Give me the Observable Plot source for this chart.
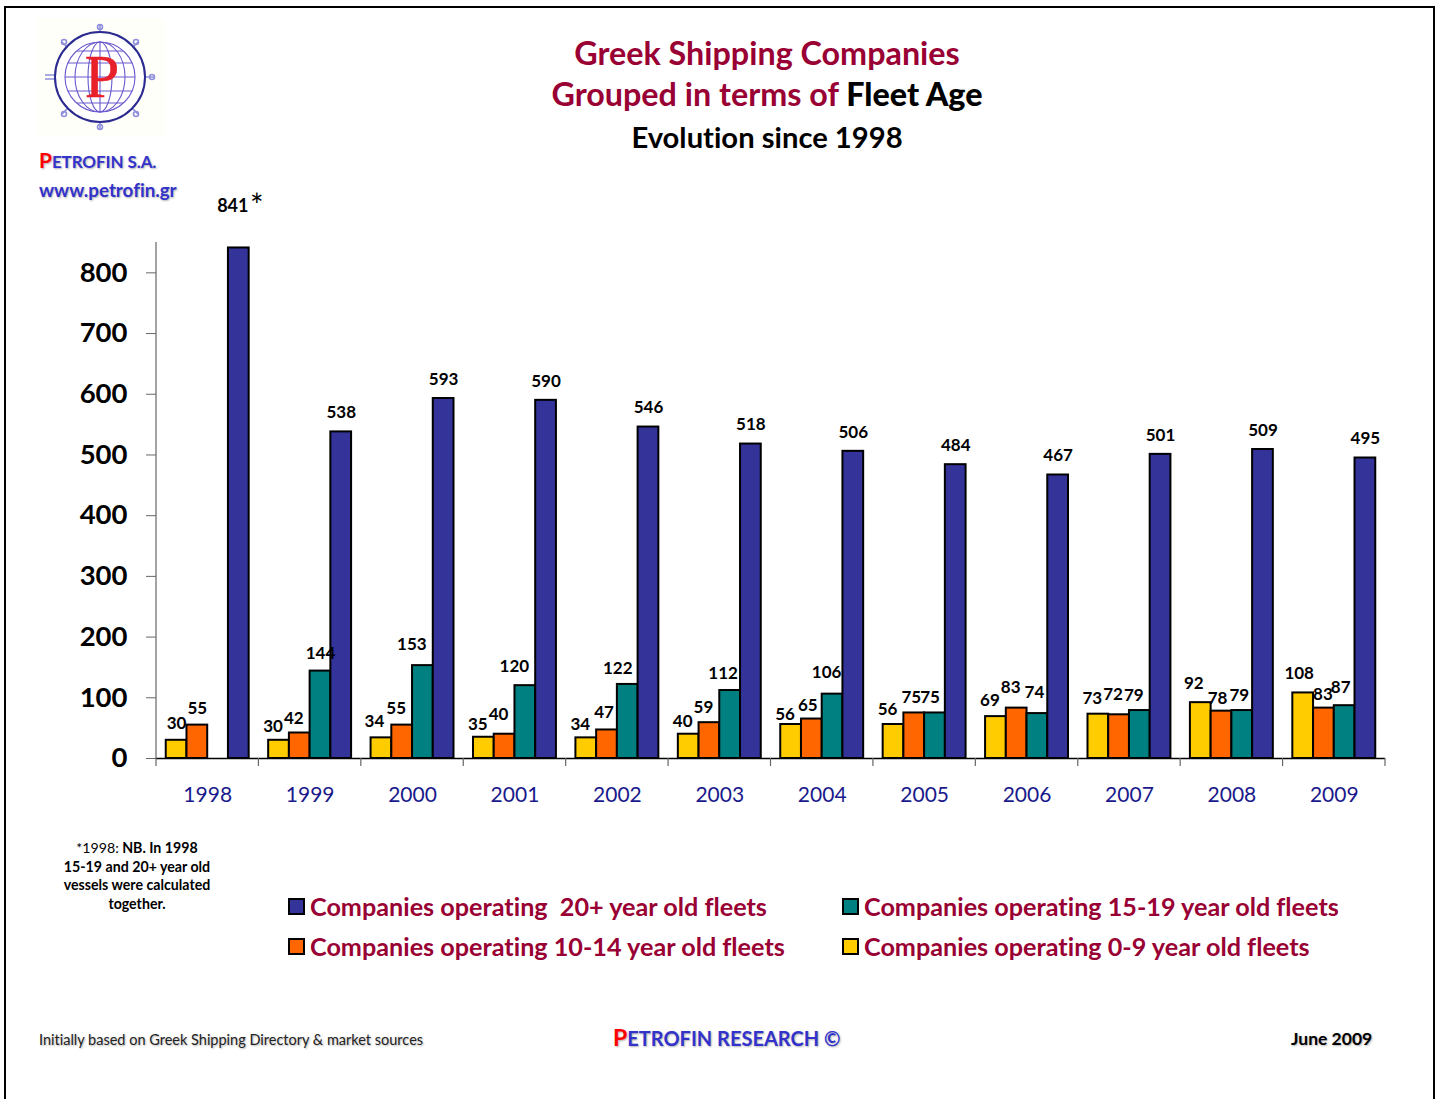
<!DOCTYPE html>
<html>
<head>
<meta charset="utf-8">
<script src="https://cdn.jsdelivr.net/npm/d3@7"></script>
<script src="https://cdn.jsdelivr.net/npm/@observablehq/plot@0.6"></script>
<style>
  html, body { margin: 0; padding: 0; background: #fff; }
  #page { position: relative; width: 1440px; height: 1099px; overflow: hidden; font-family: Lato, "Open Sans", sans-serif; color: #000; font-variant-ligatures: none; }
  #edge { position: absolute; left: 4px; top: 6px; width: 1427px; height: 1200px; border: 2px solid #000; }
  #page > div.t { position: absolute; white-space: nowrap; }
  #chart { position: absolute; left: 0; top: 185px; }
  .ttl { left: 267px; width: 1000px; text-align: center; font-weight: 700; color: #990033; }
  .ttl b { color: #000; }
  .leg { font-size: 25.2px; font-weight: 700; color: #990033; }
  .sw { position: absolute; width: 13px; height: 13px; border: 2px solid #000; }
  .soft { text-shadow: 1px 1px 2px rgba(0,0,0,.3); }
  .blue { color: #3333cc; }
  .red { color: #ff0000; }
  #chart text { font-variant-ligatures: none; }
</style>
</head>
<body>
<div id="page">
  <div id="edge"></div>

  <svg style="position:absolute;left:36px;top:16px;filter:blur(.6px)" width="130" height="126" viewBox="36 16 130 126">
    <rect x="37" y="18" width="128" height="118" fill="#fffffa"/>
    <g fill="none" stroke="#8f8fdc" stroke-width="1.6">
      <path d="M100 25v10M100 120v10M45 75h10M45 79h10M145 77h10M62 42l6 6M138 42l-6 6M62 114l6-6M138 114l-6-6"/>
      <circle cx="100" cy="27" r="2.5"/><circle cx="100" cy="127" r="2.5"/>
      <circle cx="152" cy="77" r="2.5"/>
      <circle cx="64" cy="42" r="2.5"/><circle cx="136" cy="42" r="2.5"/>
      <circle cx="64" cy="114" r="2.5"/><circle cx="136" cy="114" r="2.5"/>
    </g>
    <circle cx="100" cy="77" r="45" fill="#fff" stroke="#2a2a90" stroke-width="2"/>
    <g fill="none" stroke="#6a5acd" stroke-width="1.1">
      <circle cx="100" cy="77" r="35"/>
      <ellipse cx="100" cy="77" rx="12" ry="35"/>
      <ellipse cx="100" cy="77" rx="25" ry="35"/>
      <path d="M100 42v70M65 77h70M68 63h64M68 91h64M77 51h46M77 103h46"/>
    </g>
    <text x="102" y="97" text-anchor="middle" font-family="Liberation Serif" font-weight="400" font-size="62" fill="#e8202a" stroke="#e8202a" stroke-width=".6">P</text>
  </svg>

  <div class="t soft" style="left:39px;top:147px;font-size:17px;font-weight:700;letter-spacing:-.1px"><span class="red" style="font-size:21px">P</span><span class="blue">ETROFIN S.A.</span></div>
  <div class="t soft blue" style="left:39px;top:178px;font-size:18.8px;font-weight:700">www.petrofin.gr</div>

  <div class="t ttl" style="top:34px;font-size:32.3px;line-height:38px">Greek Shipping Companies</div>
  <div class="t ttl" style="top:75px;font-size:32.3px;line-height:38px">Grouped in terms of <b>Fleet Age</b></div>
  <div class="t ttl" style="top:119px;font-size:29.2px;line-height:36px;color:#000">Evolution since 1998</div>

  <div id="chart"></div>

  <div class="t" style="left:37px;width:200px;top:839px;text-align:center;font-size:14.2px;line-height:18.7px;font-weight:700"><span style="font-weight:400">*1998:</span> NB. In 1998<br>15-19 and 20+ year old<br>vessels were calculated<br>together.</div>

  <div class="sw" style="left:288px;top:898px;background:#333399"></div>
  <div class="t leg" style="left:310px;top:891px">Companies operating&nbsp; 20+ year old fleets</div>
  <div class="sw" style="left:842px;top:898px;background:#008080"></div>
  <div class="t leg" style="left:864px;top:891px">Companies operating 15-19 year old fleets</div>
  <div class="sw" style="left:288px;top:938px;background:#ff6600"></div>
  <div class="t leg" style="left:310px;top:931px">Companies operating 10-14 year old fleets</div>
  <div class="sw" style="left:842px;top:938px;background:#ffcc00"></div>
  <div class="t leg" style="left:864px;top:931px">Companies operating 0-9 year old fleets</div>

  <div class="t soft" style="left:39px;top:1031px;font-size:14.5px;color:#222">Initially based on Greek Shipping Directory &amp; market sources</div>
  <div class="t soft" style="left:613px;top:1023px;font-size:20px;font-weight:700"><span class="red" style="font-size:23px">P</span><span class="blue">ETROFIN RESEARCH ©</span></div>
  <div class="t soft" style="left:1291px;top:1028px;font-size:17.5px;font-weight:700">June 2009</div>
</div>

<script>
// Fleet-age groups per year; the 15-19 and 20+ groups were counted together in 1998.
const years = [1998, 1999, 2000, 2001, 2002, 2003, 2004, 2005, 2006, 2007, 2008, 2009];
const seriesNames = ["0-9", "10-14", "15-19", "20+"];
const age0to9 = [30, 30, 34, 35, 34, 40, 56, 56, 69, 73, 92, 108];
const age10to14 = [55, 42, 55, 40, 47, 59, 65, 75, 83, 72, 78, 83];
const age15to19 = [null, 144, 153, 120, 122, 112, 106, 75, 74, 79, 79, 87];
const age20plus = [841, 538, 593, 590, 546, 518, 506, 484, 467, 501, 509, 495];
const seriesValues = [age0to9, age10to14, age15to19, age20plus];
const seriesColors = ["#ffcc00", "#ff6600", "#008080", "#333399"];

// Hand placement of the value labels, to keep crowded ones from colliding: [dx, dy] per year.
const labelOffsets = [
  [[0,0],[-6,3],[-7,1],[-6,4],[-6,4],[-6,4],[-6,7],[-6,2],[-6,1],[-6,1],[-7,-2],[-4,-2]],
  [[0,0],[-6,3],[-6,0],[-6,-3],[-3,0],[-6,2],[-4,4],[-3,2],[-6,-4],[-6,-3],[-4,4],[-1,3]],
  [[0,0],[0,-1],[-11,-4],[-11,-2],[-10,1],[-7,0],[-6,-5],[-5,2],[-3,-4],[-6,2],[-3,2],[-4,-1]],
  [[-6,-25],[0,-2],[0,-2],[0,-2],[0,-2],[0,-2],[0,-2],[0,-2],[0,-2],[0,-2],[0,-2],[0,-2]]
];

const rows = years.flatMap((year, i) =>
  seriesNames.map((series, s) => ({
    year, series, value: seriesValues[s][i], offset: labelOffsets[s][i]
  }))
).filter(d => d.value != null);

const fontFamily = "Lato, 'Open Sans', sans-serif";

// Tick marks between year groups, plus the vertical axis line on the first facet.
// Plot calls this once per facet, left to right, in that facet's translated coordinates.
let facetsDrawn = 0;
function axisFrame(index, {fx}, values, {marginLeft, marginTop, height, marginBottom}) {
  const facet = facetsDrawn++;
  const g = d3.create("svg:g").attr("stroke", "#666").attr("stroke-width", 1.2);
  const y0 = height - marginBottom;
  const tick = x => g.append("line").attr("x1", x).attr("x2", x).attr("y1", y0).attr("y2", y0 + 8);
  tick(marginLeft);
  if (facet === 0) {
    g.append("line").attr("x1", marginLeft).attr("x2", marginLeft).attr("y1", marginTop).attr("y2", y0);
  }
  if (facet === years.length - 1) tick(marginLeft + fx.bandwidth());
  return g.node();
}

const chart = Plot.plot({
  width: 1440,
  height: 645,
  marginLeft: 156,
  marginRight: 55,
  marginTop: 57,
  marginBottom: 72,
  style: {fontFamily, background: "transparent", overflow: "visible"},
  fx: {domain: years, padding: 0, round: false, label: null},
  x: {domain: seriesNames, paddingInner: 0, paddingOuter: 0.47, round: false, axis: null},
  y: {domain: [0, 850], label: null},
  marks: [
    Plot.barY(rows, {
      fx: "year", x: "series", y: "value",
      fill: d => seriesColors[seriesNames.indexOf(d.series)],
      stroke: "#000", strokeWidth: 2, insetLeft: 0, insetRight: 0
    }),
    Plot.ruleY([0], {stroke: "#000", strokeWidth: 1.5}),
    axisFrame,
    Plot.axisY({
      ticks: d3.range(0, 900, 100), tickSize: 10, tickPadding: 19,
      stroke: "#666", fontSize: 27.5, fontWeight: 700, color: "#000", label: null
    }),
    Plot.axisFx({
      anchor: "bottom", tickSize: 0, tickPadding: 29, tickFormat: d => String(d),
      fontSize: 21, fill: "#1a1a8c", label: null
    }),
    ...rows.map(d => Plot.text([d], {
      fx: "year", x: "series", y: "value", text: r => String(r.value),
      dx: d.offset[0], dy: -17 + d.offset[1],
      fontSize: d.year === 1998 && d.series === "20+" ? 18 : 17, fontWeight: 700, fill: "#000"
    })),
    Plot.text(rows.filter(d => d.year === 1998 && d.series === "20+"), {
      fx: "year", x: "series", y: "value", text: () => "*",
      dx: 18, dy: -41, fontSize: 32, fontWeight: 400, fill: "#000"
    })
  ]
});
document.getElementById("chart").appendChild(chart);
</script>
</body>
</html>
